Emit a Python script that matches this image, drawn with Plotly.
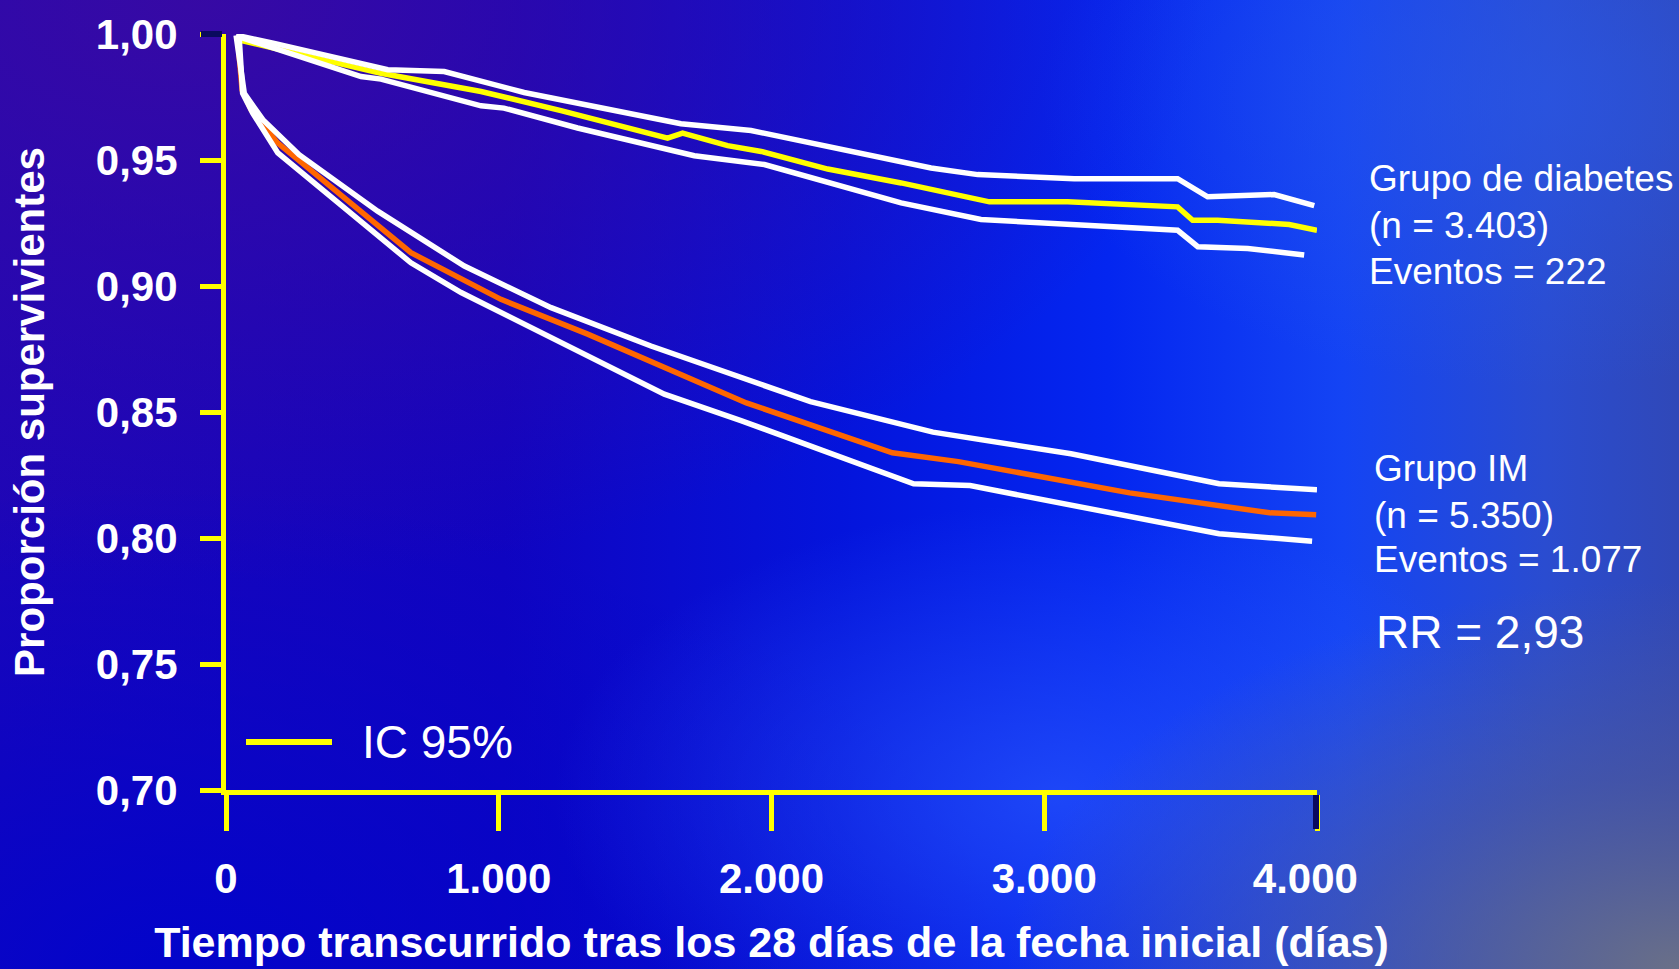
import base64
import plotly.graph_objects as go

# ---- Kaplan-Meier estimates (days since day 28, proportion surviving) ----
diab_x = [49, 568, 935, 1228, 1619, 1674, 1839, 1962, 2206, 2475, 2799, 3086, 3489, 3544, 3636, 3898, 4000]
diab_y = [0.9976, 0.9844, 0.9772, 0.9696, 0.9587, 0.9607, 0.9557, 0.9534, 0.9464, 0.9409,
          0.9334, 0.9334, 0.9314, 0.9261, 0.9261, 0.9244, 0.9221]

diab_hi_x = [37, 177, 593, 800, 1093, 1668, 1925, 2475, 2585, 2756, 3110, 3489, 3599, 3843, 3990]
diab_hi_y = [0.9995, 0.9963, 0.9858, 0.9851, 0.9768, 0.9644, 0.9617, 0.9491, 0.9468, 0.9442,
             0.9426, 0.9426, 0.9354, 0.9363, 0.9319]

diab_lo_x = [48, 495, 568, 935, 1019, 1289, 1717, 1974, 2475, 2768, 3489, 3563, 3746, 3953]
diab_lo_y = [0.9989, 0.9831, 0.9821, 0.9715, 0.9706, 0.9627, 0.9517, 0.9482, 0.9330, 0.9264,
             0.9221, 0.9156, 0.9149, 0.9123]

im_x = [43, 59, 92, 190, 678, 1008, 1326, 1815, 1908, 2443, 2685, 3313, 3826, 3997]
im_y = [0.9976, 0.9778, 0.9699, 0.9567, 0.9132, 0.8947, 0.8809, 0.8580, 0.8536, 0.8338,
        0.8303, 0.8179, 0.8100, 0.8092]

im_hi_x = [37, 67, 92, 135, 268, 556, 874, 1192, 1558, 1815, 2143, 2592, 3098, 3641, 4000]
im_hi_y = [0.9995, 0.9765, 0.9726, 0.9660, 0.9521, 0.9297, 0.9079, 0.8914, 0.8762, 0.8663,
           0.8541, 0.8420, 0.8334, 0.8215, 0.8191]

im_lo_x = [48, 61, 98, 190, 678, 862, 1607, 1888, 2521, 2728, 3641, 3982]
im_lo_y = [0.9992, 0.9765, 0.9686, 0.9528, 0.9092, 0.8974, 0.8571, 0.8466, 0.8215, 0.8208,
           0.8017, 0.7987]

x_ticks = [0, 1000, 2000, 3000, 4000]
x_labels = ["0", "1.000", "2.000", "3.000", "4.000\u00a0\u00a0"]
y_ticks = [0.70, 0.75, 0.80, 0.85, 0.90, 0.95, 1.00]
y_labels = ["0,70", "0,75", "0,80", "0,85", "0,90", "0,95", "1,00"]

diab_text = ["Grupo de diabetes", "(n = 3.403)", "Eventos = 222"]
im_text = ["Grupo IM", "(n = 5.350)", "Eventos = 1.077"]
rr_text = "RR = 2,93"
ci_text = "IC 95%"

# ---- page geometry ----
W, H = 1679, 969
ML, MR, MT, MB = 226, 362, 34, 179
PW, PH = W - ML - MR, H - MT - MB


def px(xp):
    return (xp - ML) / PW


def py(yp):
    return (H - MB - yp) / PH


YELLOW = "#FFFF00"
ORANGE = "#FF6600"
WHITE = "#FFFFFF"
NAVY = "#0A0A5E"
FONT = "Liberation Sans, Arial, sans-serif"
LW = 5.5

# ---- gradient backdrop ----
svg = f"""<svg xmlns="http://www.w3.org/2000/svg" width="{W}" height="{H}" viewBox="0 0 {W} {H}" preserveAspectRatio="none">
<defs>
<linearGradient id="base" x1="0" y1="0" x2="1" y2="0">
 <stop offset="0" stop-color="#1c06b8"/>
 <stop offset="0.3" stop-color="#1004c0"/>
 <stop offset="0.5" stop-color="#0414dc"/>
 <stop offset="0.66" stop-color="#0426f0"/>
 <stop offset="0.8" stop-color="#1444f4"/>
 <stop offset="0.92" stop-color="#2a4cd0"/>
 <stop offset="1" stop-color="#3048b8"/>
</linearGradient>
<radialGradient id="tl" cx="0.12" cy="0.0" r="0.6">
 <stop offset="0" stop-color="#3a0aa2" stop-opacity="0.9"/>
 <stop offset="1" stop-color="#3a0aa2" stop-opacity="0"/>
</radialGradient>
<radialGradient id="bl" cx="0.1" cy="1.0" r="0.5">
 <stop offset="0" stop-color="#0004cc" stop-opacity="0.9"/>
 <stop offset="1" stop-color="#0004cc" stop-opacity="0"/>
</radialGradient>
<radialGradient id="bright" cx="0.63" cy="0.82" r="0.3">
 <stop offset="0" stop-color="#2e5eff" stop-opacity="0.6"/>
 <stop offset="1" stop-color="#2e5eff" stop-opacity="0"/>
</radialGradient>
<radialGradient id="tr" cx="0.92" cy="0.1" r="0.3">
 <stop offset="0" stop-color="#2a58e8" stop-opacity="0.6"/>
 <stop offset="1" stop-color="#2a58e8" stop-opacity="0"/>
</radialGradient>
<radialGradient id="gray" cx="1.0" cy="1.0" r="0.4">
 <stop offset="0" stop-color="#6a7088" stop-opacity="1"/>
 <stop offset="0.5" stop-color="#505a98" stop-opacity="0.6"/>
 <stop offset="1" stop-color="#505a98" stop-opacity="0"/>
</radialGradient>
</defs>
<rect width="{W}" height="{H}" fill="url(#base)"/>
<rect width="{W}" height="{H}" fill="url(#tl)"/>
<rect width="{W}" height="{H}" fill="url(#bl)"/>
<rect width="{W}" height="{H}" fill="url(#bright)"/>
<rect width="{W}" height="{H}" fill="url(#tr)"/>
<rect width="{W}" height="{H}" fill="url(#gray)"/>
</svg>"""
bg_uri = "data:image/svg+xml;base64," + base64.b64encode(svg.encode()).decode()

fig = go.Figure()


def add_line(xs, ys, color, name):
    fig.add_trace(go.Scatter(x=xs, y=ys, mode="lines", name=name,
                             line=dict(color=color, width=LW), showlegend=False,
                             hoverinfo="skip"))


add_line(diab_x, diab_y, YELLOW, "Diabetes")
add_line(im_x, im_y, ORANGE, "IM")
add_line(diab_hi_x, diab_hi_y, WHITE, "Diabetes IC sup")
add_line(diab_lo_x, diab_lo_y, WHITE, "Diabetes IC inf")
add_line(im_hi_x, im_hi_y, WHITE, "IM IC sup")
add_line(im_lo_x, im_lo_y, WHITE, "IM IC inf")

tick_font = dict(family=FONT, size=42, color=WHITE, weight="bold")

fig.update_xaxes(range=[0, 4000], tickvals=x_ticks, ticktext=x_labels, automargin=False,
                 showgrid=False, zeroline=False, showline=True, linecolor=YELLOW, linewidth=5,
                 ticks="outside", ticklen=36, tickwidth=5, tickcolor=YELLOW,
                 tickfont=tick_font, ticklabelstandoff=12,
                 title=dict(text="Tiempo transcurrido tras los 28 días de la fecha inicial (días)",
                            font=dict(family=FONT, size=43, color=WHITE, weight="bold"),
                            standoff=27))
fig.update_yaxes(range=[0.70, 1.00], tickvals=y_ticks, ticktext=y_labels, automargin=False,
                 showgrid=False, zeroline=False, showline=True, linecolor=YELLOW, linewidth=5,
                 ticks="outside", ticklen=21, tickwidth=5, tickcolor=YELLOW,
                 tickfont=tick_font, ticklabelstandoff=14,
                 title=dict(text="Proporción supervivientes",
                            font=dict(family=FONT, size=42, color=WHITE, weight="bold"),
                            standoff=40))

shapes = [
    # dark end ticks at 1,00 and 4.000
    dict(type="line", xref="paper", yref="paper", x0=px(201), x1=px(222), y0=py(34), y1=py(34),
         line=dict(color=NAVY, width=6)),
    dict(type="line", xref="paper", yref="paper", x0=px(1316), x1=px(1316), y0=py(795), y1=py(829),
         line=dict(color=NAVY, width=6)),
    # legend sample line
    dict(type="line", xref="paper", yref="paper", x0=px(246), x1=px(332), y0=py(742), y1=py(742),
         line=dict(color=YELLOW, width=6)),
]

annotations = []
for i, t in enumerate(diab_text):
    annotations.append(dict(text=t, x=px(1367), y=py([179, 225, 271][i]), xref="paper", yref="paper",
                            xanchor="left", yanchor="middle", showarrow=False,
                            font=dict(family=FONT, size=37, color=WHITE)))
for i, t in enumerate(im_text):
    annotations.append(dict(text=t, x=px(1372), y=py([469, 515, 559][i]), xref="paper", yref="paper",
                            xanchor="left", yanchor="middle", showarrow=False,
                            font=dict(family=FONT, size=37, color=WHITE)))
annotations.append(dict(text=rr_text, x=px(1374), y=py(632), xref="paper", yref="paper",
                        xanchor="left", yanchor="middle", showarrow=False,
                        font=dict(family=FONT, size=46, color=WHITE)))
annotations.append(dict(text=ci_text, x=px(360), y=py(742), xref="paper", yref="paper",
                        xanchor="left", yanchor="middle", showarrow=False,
                        font=dict(family=FONT, size=46, color=WHITE)))

fig.update_layout(
    width=W, height=H,
    margin=dict(l=ML, r=MR, t=MT, b=MB, pad=0, autoexpand=False),
    paper_bgcolor="#0a14d8", plot_bgcolor="rgba(0,0,0,0)",
    images=[dict(source=bg_uri, xref="paper", yref="paper",
                 x=-ML / PW, y=1 + MT / PH, sizex=W / PW, sizey=H / PH,
                 xanchor="left", yanchor="top", sizing="stretch", layer="below")],
    shapes=shapes, annotations=annotations,
)

fig.write_html("out.html")
